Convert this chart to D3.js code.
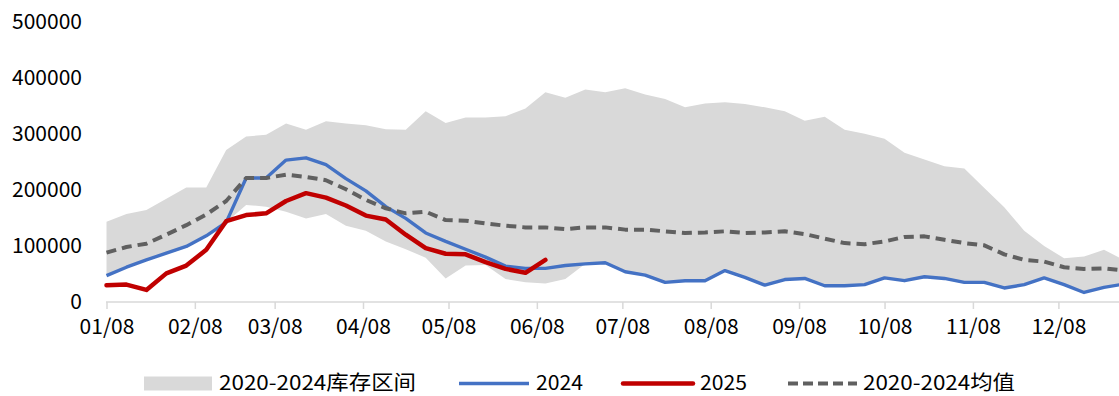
<!DOCTYPE html>
<html>
<head>
<meta charset="utf-8">
<script src="https://cdn.jsdelivr.net/npm/d3@7"></script>
<style>
  html, body { margin: 0; padding: 0; background: #fff; }
  svg { display: block; }
  text { font-family: "Noto Sans CJK SC", "Noto Sans", sans-serif; fill: #000; }
</style>
</head>
<body>
<svg id="chart" width="1119" height="396"></svg>
<script>
// ---- data ----
const startDate = "2025-01-08";
const weekCount = 52;
const tickLabels = ["01/08","02/08","03/08","04/08","05/08","06/08","07/08","08/08","09/08","10/08","11/08","12/08"];
const yTicks = [0, 100000, 200000, 300000, 400000, 500000];

const rangeUpper = [143000,157000,164000,184000,204000,204000,271000,295000,298000,318000,307000,322000,318000,315000,308000,307000,340000,319000,329000,329000,331000,345000,374000,364000,379000,374000,381000,370000,362000,347000,354000,356000,353000,347000,340000,323000,330000,307000,300000,291000,266000,254000,242000,238000,203000,169000,127000,100000,78000,81000,93000,75000];
const rangeLower = [47000,62000,75000,87000,99000,118000,142000,173000,170000,161000,149000,157000,136000,127000,108000,94000,79000,42000,65000,66000,41000,35000,33000,41000,68000,70000,54000,48000,35000,38000,38000,56000,44000,30000,40000,42000,29000,29000,31000,43000,38000,45000,42000,35000,35000,25000,31000,43000,31000,17000,26000,32000];
const s2024 = [47000,62000,75000,87000,99000,118000,142000,221000,221000,253000,257000,245000,220000,198000,170000,149000,123000,108000,94000,80000,64000,60000,60000,65000,68000,70000,54000,48000,35000,38000,38000,56000,44000,30000,40000,42000,29000,29000,31000,43000,38000,45000,42000,35000,35000,25000,31000,43000,31000,17000,26000,32000];
const s2025 = [30000,31000,21500,51000,65000,93000,144000,155000,158000,180000,194000,186000,172000,154000,147000,120000,96000,86000,85000,71000,59000,52000,75000];
const sMean = [88000,98000,104000,120000,137000,156000,180000,221000,221000,227000,223000,217000,201000,182000,167000,158000,161000,146000,145000,140000,136000,133000,133000,130000,133000,133000,129000,129000,126000,123000,124000,126000,123000,124000,126000,121000,113000,105000,103000,108000,116000,117000,111000,105000,101000,85000,75000,72000,62000,59000,60000,56000];

const legendLabels = ["2020-2024库存区间", "2024", "2025", "2020-2024均值"];

// ---- build ----
const parse = d3.timeParse("%Y-%m-%d");
const t0 = parse(startDate);
const dates = d3.range(weekCount).map(i => d3.timeDay.offset(t0, 7 * i));
const tickDates = tickLabels.map(l => {
  const [m, d] = l.split("/").map(Number);
  return new Date(2025, m - 1, d);
});

const svg = d3.select("#chart");
const x = d3.scaleTime()
  .domain([t0, dates[dates.length - 1]])
  .range([106.5, 106.5 + 357 * 2.85]);
const y = d3.scaleLinear().domain([0, 500000]).range([302, 21.5]);

const COL_AREA = "#d9d9d9", COL_2024 = "#4472c4", COL_2025 = "#c00000", COL_MEAN = "#606060";

// area
const area = d3.area()
  .x((d, i) => x(dates[i]))
  .y0((d, i) => y(rangeLower[i]))
  .y1((d, i) => y(rangeUpper[i]));
svg.append("path").datum(rangeUpper).attr("d", area).attr("fill", COL_AREA);

// x axis
const xAxis = d3.axisBottom(x)
  .tickValues(tickDates)
  .tickFormat((d, i) => tickLabels[i])
  .tickSizeInner(7).tickSizeOuter(0).tickPadding(10);
const gx = svg.append("g").attr("transform", "translate(0,302)").call(xAxis);
gx.select(".domain").attr("stroke", "#d9d9d9").attr("stroke-width", 1.5)
  .attr("d", `M106,0H1119`);
gx.selectAll(".tick line").attr("stroke", "#d9d9d9").attr("stroke-width", 1.5);
gx.selectAll(".tick text").attr("font-size", 21).attr("fill", "#000")
  .attr("font-family", '"Noto Sans CJK SC", "Noto Sans", sans-serif')
  .attr("dy", "0.71em");

// y axis (labels only)
const yAxis = d3.axisLeft(y).tickValues(yTicks).tickFormat(d3.format("d"))
  .tickSize(0).tickPadding(0);
const gy = svg.append("g").attr("transform", "translate(82,0)").call(yAxis);
gy.select(".domain").remove();
gy.selectAll(".tick text").attr("font-size", 21).attr("fill", "#000")
  .attr("font-family", '"Noto Sans CJK SC", "Noto Sans", sans-serif');

// lines
const lineGen = d3.line().x((d, i) => x(dates[i])).y(d => y(d));
svg.append("path").datum(s2024).attr("d", lineGen).attr("fill", "none")
  .attr("stroke", COL_2024).attr("stroke-width", 3.4).attr("stroke-linejoin", "round");
svg.append("path").datum(s2025).attr("d", lineGen).attr("fill", "none")
  .attr("stroke", COL_2025).attr("stroke-width", 4.5).attr("stroke-linejoin", "round").attr("stroke-linecap", "round");
svg.append("path").datum(sMean).attr("d", lineGen).attr("fill", "none")
  .attr("stroke", COL_MEAN).attr("stroke-width", 4).attr("stroke-dasharray", "10,6")
  .attr("stroke-linejoin", "round");

// legend
const lg = svg.append("g");
const ly = 383.5;
const lfs = 20;
lg.append("rect").attr("x", 144).attr("y", ly - 7).attr("width", 68).attr("height", 14).attr("fill", COL_AREA);
lg.append("text").attr("x", 219).attr("y", ly).attr("dy", "0.33em").attr("font-size", lfs)
  .attr("textLength", 197).attr("lengthAdjust", "spacingAndGlyphs").text(legendLabels[0]);
lg.append("line").attr("x1", 459).attr("x2", 529).attr("y1", ly).attr("y2", ly)
  .attr("stroke", COL_2024).attr("stroke-width", 3.4);
lg.append("text").attr("x", 536).attr("y", ly).attr("dy", "0.33em").attr("font-size", lfs)
  .attr("textLength", 47).attr("lengthAdjust", "spacingAndGlyphs").text(legendLabels[1]);
lg.append("line").attr("x1", 623).attr("x2", 693).attr("y1", ly).attr("y2", ly)
  .attr("stroke", COL_2025).attr("stroke-width", 4.5).attr("stroke-linecap", "round");
lg.append("text").attr("x", 700).attr("y", ly).attr("dy", "0.33em").attr("font-size", lfs)
  .attr("textLength", 47).attr("lengthAdjust", "spacingAndGlyphs").text(legendLabels[2]);
lg.append("line").attr("x1", 788).attr("x2", 857).attr("y1", ly).attr("y2", ly)
  .attr("stroke", COL_MEAN).attr("stroke-width", 4).attr("stroke-dasharray", "10,5");
lg.append("text").attr("x", 863).attr("y", ly).attr("dy", "0.33em").attr("font-size", lfs)
  .attr("textLength", 152).attr("lengthAdjust", "spacingAndGlyphs").text(legendLabels[3]);
</script>
</body>
</html>
